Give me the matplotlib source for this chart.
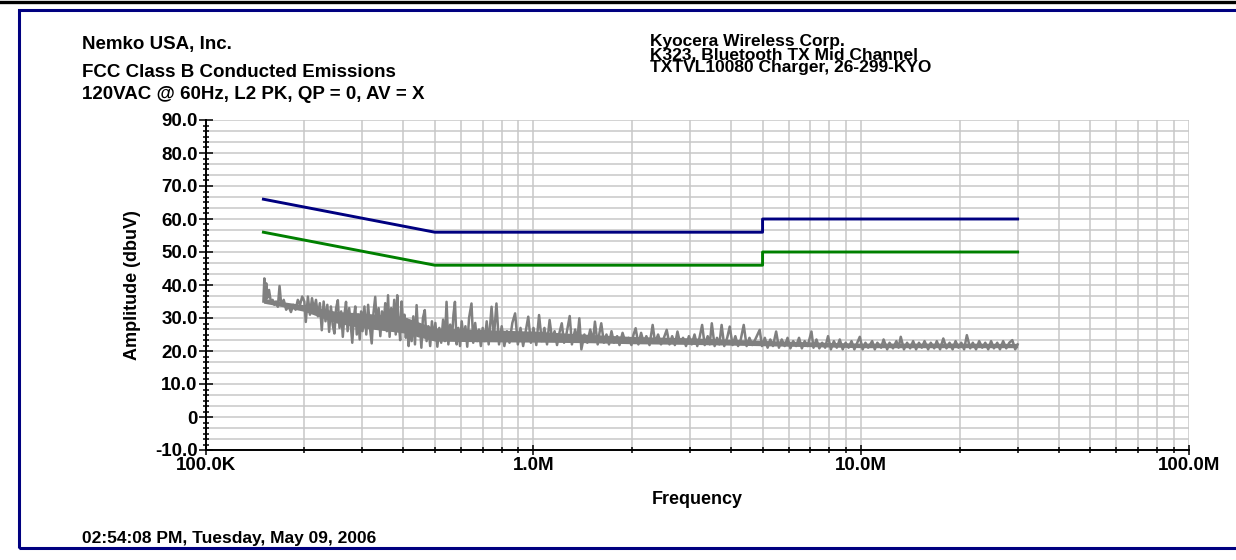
import numpy as np
import matplotlib
matplotlib.use('Agg')
import matplotlib.pyplot as plt
from matplotlib.ticker import FixedLocator, FixedFormatter, LogLocator, MultipleLocator, NullFormatter
from matplotlib.patches import Rectangle
from matplotlib.lines import Line2D

plt.rcParams['font.family'] = ['Liberation Sans', 'DejaVu Sans']
plt.rcParams['font.weight'] = 'bold'

# FCC class B limits (MHz, dBuV)
limit_mhz = [0.15, 0.5, 5.0, 5.0, 30.0]
qp_limit = [66, 56, 56, 60, 60]
av_limit = [56, 46, 46, 50, 50]

# L2 peak sweep (MHz, dBuV)
trace = [
    (0.150, 35.0), (0.151, 42.0), (0.152, 35.5), (0.153, 40.5), (0.154, 36.0),
    (0.156, 38.5), (0.158, 35.0), (0.160, 35.5), (0.162, 34.0), (0.164, 35.0),
    (0.166, 33.4), (0.168, 39.7), (0.170, 34.0), (0.173, 35.5), (0.176, 32.5),
    (0.179, 33.5), (0.182, 31.8), (0.185, 34.0), (0.188, 32.5), (0.191, 35.5),
    (0.194, 34.0), (0.197, 36.5), (0.200, 35.0),
    (0.202, 28.8), (0.205, 36.5), (0.208, 31.0), (0.211, 36.0), (0.214, 32.5),
    (0.217, 35.5), (0.220, 30.5), (0.223, 34.5), (0.226, 26.3), (0.229, 35.0),
    (0.232, 29.0), (0.235, 34.0), (0.238, 25.8), (0.241, 33.5), (0.244, 28.0),
    (0.247, 25.3), (0.250, 33.0), (0.253, 35.4), (0.256, 27.0), (0.259, 32.0),
    (0.262, 24.3), (0.265, 31.0), (0.268, 34.9), (0.271, 26.0), (0.274, 33.0),
    (0.277, 28.0), (0.280, 22.5), (0.283, 30.0), (0.286, 33.5), (0.289, 25.0),
    (0.292, 31.0), (0.295, 23.5), (0.298, 32.0),
    (0.301, 26.0), (0.305, 33.5), (0.309, 25.0), (0.313, 34.0), (0.317, 27.0),
    (0.321, 22.3), (0.325, 31.5), (0.329, 36.4), (0.333, 27.5), (0.337, 33.0),
    (0.341, 24.5), (0.345, 32.0), (0.349, 28.0), (0.353, 34.5), (0.357, 26.0),
    (0.360, 36.9), (0.364, 24.3), (0.368, 33.0), (0.372, 27.5), (0.376, 35.5),
    (0.380, 25.0), (0.384, 36.9), (0.388, 29.0), (0.392, 23.3), (0.396, 35.0),
    (0.400, 28.0),
    (0.404, 31.0), (0.408, 24.0), (0.412, 29.5), (0.416, 21.5), (0.420, 28.0),
    (0.425, 23.0), (0.430, 30.5), (0.435, 22.0), (0.440, 33.9), (0.445, 24.5),
    (0.450, 28.0), (0.455, 21.0), (0.460, 30.0), (0.466, 32.4), (0.472, 23.0),
    (0.478, 27.5), (0.484, 21.5), (0.490, 29.0), (0.496, 23.5),
    (0.502, 28.5), (0.509, 21.3), (0.516, 27.0), (0.523, 22.5), (0.530, 29.5),
    (0.537, 23.0), (0.543, 34.9), (0.550, 22.0), (0.557, 28.0), (0.564, 23.5),
    (0.570, 31.0), (0.576, 34.9), (0.583, 22.0), (0.590, 27.0), (0.597, 21.5),
    (0.604, 29.0), (0.612, 24.0), (0.620, 27.5), (0.628, 21.3), (0.636, 30.0),
    (0.647, 34.4), (0.655, 22.5), (0.664, 28.5), (0.673, 23.0), (0.682, 26.5),
    (0.691, 21.5), (0.700, 27.0), (0.710, 23.0), (0.720, 29.0), (0.730, 22.0),
    (0.745, 33.4), (0.757, 24.0), (0.771, 34.4), (0.785, 22.0), (0.800, 27.5),
    (0.815, 21.5), (0.830, 26.0), (0.845, 22.5), (0.862, 28.5), (0.879, 31.4),
    (0.896, 22.0), (0.913, 27.0), (0.930, 21.5), (0.947, 26.0), (0.964, 30.4),
    (0.982, 22.5), (1.000, 27.0),
    (1.02, 21.8), (1.04, 30.9), (1.06, 23.0), (1.08, 27.0), (1.10, 22.0),
    (1.12, 29.4), (1.14, 23.5), (1.16, 26.0), (1.18, 21.8), (1.20, 25.5),
    (1.22, 28.4), (1.24, 22.5), (1.26, 25.0), (1.29, 30.6), (1.31, 22.0),
    (1.34, 26.5), (1.36, 23.0), (1.38, 29.9), (1.40, 20.5), (1.43, 25.0),
    (1.46, 22.5), (1.49, 26.5), (1.52, 23.0), (1.54, 28.9), (1.57, 22.0),
    (1.59, 25.5), (1.61, 28.4), (1.64, 22.5), (1.67, 25.0), (1.70, 22.0),
    (1.73, 26.0), (1.76, 22.5), (1.80, 24.5), (1.83, 21.8), (1.87, 25.5),
    (1.91, 22.5), (1.95, 24.0), (1.99, 21.8),
    (2.02, 25.0), (2.05, 26.9), (2.09, 22.0), (2.13, 25.5), (2.17, 22.5),
    (2.21, 24.5), (2.26, 21.8), (2.31, 27.9), (2.35, 22.5), (2.40, 25.0),
    (2.45, 22.0), (2.50, 24.0), (2.55, 26.4), (2.60, 22.0), (2.65, 24.5),
    (2.70, 21.8), (2.75, 25.9), (2.80, 22.5), (2.86, 24.0), (2.92, 21.5),
    (2.98, 24.5),
    (3.04, 22.0), (3.10, 25.0), (3.16, 21.5), (3.21, 24.0), (3.27, 27.9),
    (3.33, 21.8), (3.40, 24.5), (3.45, 22.0), (3.50, 28.4), (3.57, 21.5),
    (3.63, 24.0), (3.69, 22.0), (3.75, 27.9), (3.82, 21.5), (3.90, 24.0),
    (3.97, 27.4), (4.05, 21.8), (4.13, 24.5), (4.21, 21.5), (4.29, 23.5),
    (4.38, 27.9), (4.47, 21.5), (4.56, 24.0), (4.65, 21.8), (4.75, 23.5),
    (4.90, 26.4), (4.98, 21.5),
    (5.08, 24.0), (5.18, 21.0), (5.28, 23.5), (5.38, 21.5), (5.50, 25.9),
    (5.61, 21.0), (5.72, 23.5), (5.84, 21.5), (5.96, 24.0), (6.08, 20.8),
    (6.20, 23.0), (6.33, 21.5), (6.46, 24.0), (6.59, 20.8), (6.72, 23.0),
    (6.86, 21.5), (7.05, 25.9), (7.15, 21.0), (7.30, 23.5), (7.45, 20.8),
    (7.60, 22.5), (7.76, 21.0), (7.92, 24.5), (8.08, 20.5), (8.25, 23.0),
    (8.42, 21.0), (8.60, 23.5), (8.78, 20.5), (8.96, 22.5), (9.15, 21.0),
    (9.34, 23.0), (9.53, 20.5), (9.72, 22.5), (9.90, 24.3),
    (10.1, 20.5), (10.3, 22.5), (10.5, 21.0), (10.8, 23.0), (11.0, 20.5),
    (11.2, 22.5), (11.5, 21.0), (11.7, 23.5), (12.0, 20.5), (12.2, 22.5),
    (12.5, 20.8), (12.8, 23.0), (13.0, 21.0), (13.2, 24.3), (13.5, 20.5),
    (13.8, 22.5), (14.1, 20.8), (14.4, 23.0), (14.7, 20.5), (15.0, 22.5),
    (15.3, 21.0), (15.6, 23.0), (16.0, 20.5), (16.3, 22.5), (16.7, 20.8),
    (17.0, 23.0), (17.4, 20.5), (17.8, 23.8), (18.2, 20.8), (18.6, 22.5),
    (19.0, 20.5), (19.4, 23.0), (19.8, 21.0), (20.2, 22.5), (20.6, 20.5),
    (21.0, 24.8), (21.5, 20.8), (21.9, 22.5), (22.4, 20.5), (22.9, 23.0),
    (23.4, 21.0), (23.9, 22.5), (24.4, 20.5), (24.9, 23.0), (25.4, 20.8),
    (26.0, 22.5), (26.5, 20.5), (27.1, 23.0), (27.7, 20.8), (28.3, 22.5),
    (28.9, 23.3), (29.5, 20.5), (30.0, 22.0),
]
trace_mhz = [p[0] for p in trace]
trace_db = [p[1] for p in trace]

# solid core of the sweep where the trace is too dense to resolve (MHz, dBuV)
core_mhz = [0.15, 0.17, 0.20, 0.25, 0.30, 0.40, 0.50, 0.70, 1.0, 1.5, 2.0, 3.0, 5.0, 8.0, 10.0, 20.0, 30.0]
core_lo = [34.5, 33.5, 32.0, 28.5, 27.0, 25.5, 23.0, 22.8, 22.7, 22.5, 22.2, 22.0, 21.6, 21.2, 21.0, 21.0, 21.0]
core_hi = [36.0, 35.0, 34.0, 32.0, 31.5, 30.5, 27.0, 26.5, 26.0, 25.0, 24.4, 24.0, 23.2, 22.6, 22.4, 22.4, 22.3]

x_ticks = [1e5, 1e6, 1e7, 1e8]
x_labels = ['100.0K', '1.0M', '10.0M', '100.0M']
y_ticks = [-10, 0, 10, 20, 30, 40, 50, 60, 70, 80, 90]
y_labels = ['-10.0', '0', '10.0', '20.0', '30.0', '40.0', '50.0', '60.0', '70.0', '80.0', '90.0']

W, H = 1236, 560
fig = plt.figure(figsize=(W / 100, H / 100), dpi=100)

# page frame
fig.add_artist(Line2D([0, 1], [1 - 1.5 / H, 1 - 1.5 / H], color='black', lw=2.4))
fig.add_artist(Rectangle((19 / W, 1 - 548 / H), 1.0, 538 / H, fill=False,
                         edgecolor='#000080', lw=2.2, transform=fig.transFigure))

ax = fig.add_axes([205.7 / W, 1 - 450 / H, (1189 - 205.7) / W, 330 / H])
ax.set_xscale('log')
ax.set_xlim(1e5, 1e8)
ax.set_ylim(-10, 90)

grid_c = '#c8c8c8'
for lvl in np.linspace(-10, 90, 31):
    ax.axhline(lvl, color=grid_c, lw=1.1, zorder=0.5)
ax.xaxis.set_minor_locator(LogLocator(base=10, subs=np.arange(2, 10)))
ax.xaxis.set_minor_formatter(NullFormatter())
ax.grid(True, which='both', axis='x', color=grid_c, lw=1.1, zorder=0.5)
ax.set_axisbelow(True)

gray = '#808080'
ax.fill_between(np.array(core_mhz) * 1e6, core_lo, core_hi, color=gray, lw=0, zorder=2)
ax.plot(np.array(trace_mhz) * 1e6, trace_db, color=gray, lw=1.8, zorder=2)
lim_hz = np.array(limit_mhz) * 1e6
ax.plot(lim_hz, av_limit, color='#008000', lw=2.1, zorder=3)
ax.plot(lim_hz, qp_limit, color='#000080', lw=2.1, zorder=3)

ax.xaxis.set_major_locator(FixedLocator(x_ticks))
ax.xaxis.set_major_formatter(FixedFormatter(x_labels))
ax.yaxis.set_major_locator(FixedLocator(y_ticks))
ax.yaxis.set_major_formatter(FixedFormatter(y_labels))
ax.yaxis.set_minor_locator(MultipleLocator(10 / 6))

ax.tick_params(axis='y', which='major', direction='inout', length=9.5, width=1.1,
               labelsize=13.5, pad=1)
ax.tick_params(axis='y', which='minor', direction='inout', length=5, width=1.1)
ax.tick_params(axis='x', which='major', direction='inout', length=6.5, width=1.1,
               labelsize=13.5, pad=2)
ax.tick_params(axis='x', which='minor', direction='inout', length=5, width=1.1)
for lab in ax.get_xticklabels() + ax.get_yticklabels():
    lab.set_fontweight('bold')

for s in ['top', 'right']:
    ax.spines[s].set_visible(False)
for s in ['left', 'bottom']:
    ax.spines[s].set_linewidth(1.4)
    ax.spines[s].set_zorder(4)

ax.set_xlabel('Frequency', fontsize=13, fontweight='bold', labelpad=12)
ax.set_ylabel('Amplitude (dbuV)', fontsize=13, fontweight='bold', labelpad=10)

def put(x, y, s, size=13.5):
    fig.text(x / W, 1 - y / H, s, fontsize=size, fontweight='bold', va='baseline')

put(82, 49, 'Nemko USA, Inc.')
put(82, 77, 'FCC Class B Conducted Emissions')
put(82, 99, '120VAC @ 60Hz, L2 PK, QP = 0, AV = X')
put(650, 46, 'Kyocera Wireless Corp.', 12.5)
put(650, 59, 'K323, Bluetooth TX Mid Channel', 12.5)
put(650, 72, 'TXTVL10080 Charger, 26-299-KYO', 12.5)
put(82, 543, '02:54:08 PM, Tuesday, May 09, 2006', 12.5)

fig.savefig('out.png', dpi=100)
